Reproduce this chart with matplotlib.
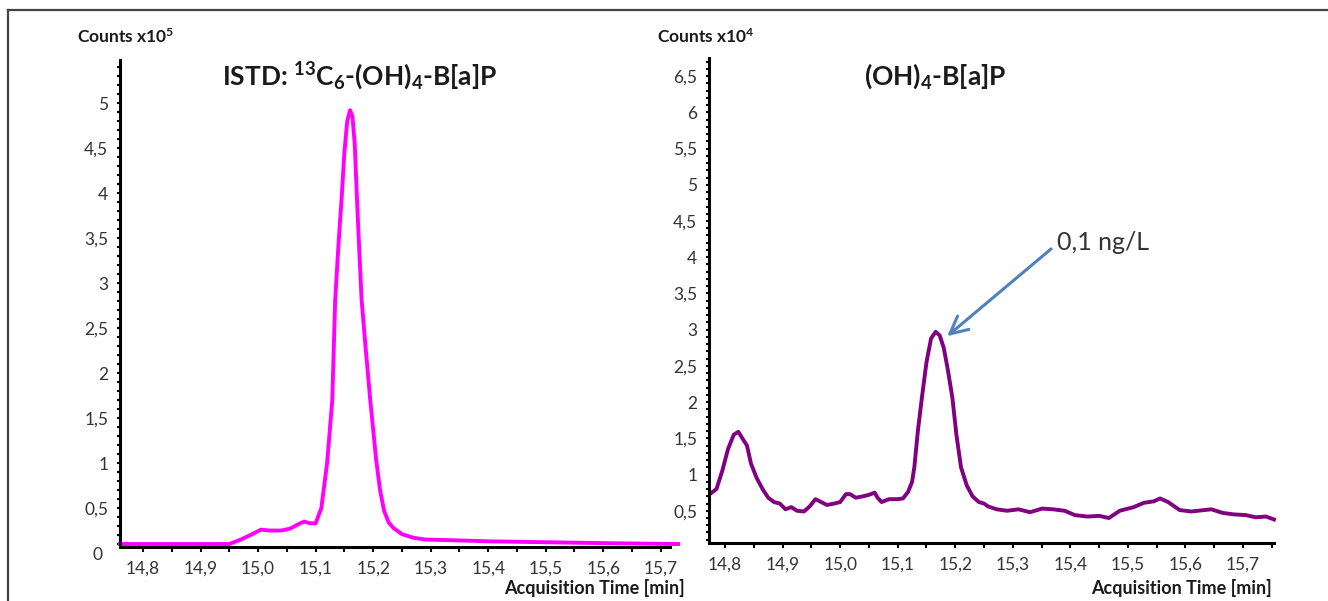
import matplotlib as mpl
mpl.use('Agg')
import matplotlib.pyplot as plt
from matplotlib.ticker import MultipleLocator, FuncFormatter
import numpy as np

plt.rcParams['font.family'] = ['Lato', 'DejaVu Sans']
plt.rcParams['mathtext.fontset'] = 'custom'
plt.rcParams['mathtext.rm'] = 'Lato'
plt.rcParams['mathtext.bf'] = 'Lato:bold'
plt.rcParams['mathtext.default'] = 'bf'

# ISTD trace, counts x10^5
istd_time = [14.76, 14.85, 14.95, 14.97, 14.99, 15.005, 15.02, 15.04, 15.055, 15.07,
             15.08, 15.09, 15.1, 15.11, 15.12, 15.129, 15.134, 15.14, 15.145, 15.15,
             15.155, 15.16, 15.164, 15.168, 15.172, 15.176, 15.18, 15.188, 15.195, 15.205,
             15.212, 15.219, 15.227, 15.235, 15.25, 15.27, 15.29, 15.35, 15.4, 15.5,
             15.6, 15.73]
istd_counts = [0.1, 0.1, 0.1, 0.15, 0.21, 0.26, 0.25, 0.25, 0.27, 0.32,
               0.35, 0.33, 0.33, 0.5, 1.0, 1.7, 2.81, 3.45, 3.92, 4.45,
               4.8, 4.92, 4.85, 4.55, 3.92, 3.35, 2.81, 2.2, 1.7, 1.05,
               0.7, 0.47, 0.34, 0.28, 0.21, 0.17, 0.15, 0.14, 0.13, 0.12,
               0.11, 0.1]

# analyte trace, counts x10^4
ana_time = [14.775, 14.785, 14.795, 14.805, 14.815, 14.823, 14.83, 14.838, 14.845, 14.855,
            14.865, 14.875, 14.885, 14.895, 14.905, 14.915, 14.925, 14.937, 14.947, 14.957,
            14.967, 14.977, 14.99, 15.0, 15.01, 15.017, 15.027, 15.04, 15.05, 15.06,
            15.065, 15.072, 15.085, 15.1, 15.109, 15.118, 15.125, 15.129, 15.135, 15.142,
            15.15, 15.158, 15.166, 15.173, 15.18, 15.187, 15.195, 15.202, 15.21, 15.22,
            15.23, 15.241, 15.25, 15.257, 15.272, 15.29, 15.31, 15.33, 15.351, 15.37,
            15.39, 15.408, 15.43, 15.45, 15.467, 15.486, 15.51, 15.528, 15.545, 15.556,
            15.57, 15.59, 15.61, 15.645, 15.665, 15.684, 15.705, 15.722, 15.74, 15.754]
ana_counts = [0.74, 0.8, 1.05, 1.35, 1.55, 1.59, 1.5, 1.4, 1.15, 0.95,
              0.8, 0.68, 0.62, 0.6, 0.52, 0.55, 0.5, 0.49, 0.56, 0.66,
              0.62, 0.58, 0.6, 0.62, 0.73, 0.73, 0.68, 0.7, 0.72, 0.75,
              0.68, 0.62, 0.66, 0.66, 0.67, 0.76, 0.9, 1.11, 1.6, 2.06,
              2.55, 2.88, 2.97, 2.92, 2.75, 2.45, 2.06, 1.55, 1.1, 0.85,
              0.7, 0.62, 0.6, 0.56, 0.52, 0.5, 0.52, 0.48, 0.53, 0.52,
              0.5, 0.44, 0.42, 0.43, 0.4, 0.5, 0.55, 0.61, 0.63, 0.67,
              0.62, 0.51, 0.49, 0.52, 0.47, 0.45, 0.44, 0.41, 0.42, 0.38]

W, H = 1328, 601
fig = plt.figure(figsize=(W / 100, H / 100), dpi=100)


def px_axes(x0, y_top, x1, y_bot):
    return fig.add_axes([x0 / W, 1 - y_bot / H, (x1 - x0) / W, (y_bot - y_top) / H])


def fx(x):
    return x / W


def fy(y):
    return 1 - y / H


comma = FuncFormatter(lambda v, p: ('%g' % round(v, 2)).replace('.', ','))
tfmt = FuncFormatter(lambda v, p: ('%.1f' % v).replace('.', ','))
lab_col = '#333333'


def style(ax):
    for s in ['top', 'right']:
        ax.spines[s].set_visible(False)
    for s in ['left', 'bottom']:
        ax.spines[s].set_linewidth(2.2)
        ax.spines[s].set_color('black')
    ax.xaxis.set_major_locator(MultipleLocator(0.1))
    ax.xaxis.set_minor_locator(MultipleLocator(0.05))
    ax.xaxis.set_major_formatter(tfmt)
    ax.yaxis.set_major_locator(MultipleLocator(0.5))
    ax.yaxis.set_minor_locator(MultipleLocator(0.1))
    ax.yaxis.set_major_formatter(comma)
    ax.tick_params(axis='both', which='both', direction='out', length=3.5, width=1.5,
                   color='black', labelsize=12.5, labelcolor=lab_col)
    ax.tick_params(axis='y', which='both', length=2.5, pad=6)
    ax.tick_params(axis='x', which='both', pad=6)


# left panel
ax1 = px_axes(120, 60, 670, 547)
ax1.plot(istd_time, istd_counts, color='#ff00ff', lw=2.8, clip_on=False,
         solid_joinstyle='round')
ax1.set_xlim(14.76, 15.716)
ax1.set_ylim(0.067, 5.478)
style(ax1)
fig.text(fx(97), fy(555), '0', ha='center', va='center', fontsize=12.5, color=lab_col)

# right panel
ax2 = px_axes(709, 58, 1274, 543)
ax2.plot(ana_time, ana_counts, color='#800080', lw=2.8, clip_on=False,
         solid_joinstyle='round')
ax2.set_xlim(14.772, 15.754)
ax2.set_ylim(0.055, 6.75)
style(ax2)

ax2.annotate('0,1 ng/L', xy=(15.186, 2.91), xytext=(15.377, 4.2),
             fontsize=18, color='#333333', ha='left', va='center',
             arrowprops=dict(arrowstyle='->,head_length=0.7,head_width=0.35',
                             color='#4f81bd', lw=2.2, shrinkA=3, shrinkB=0,
                             relpos=(0, 0.45)))

# titles and labels
fig.text(fx(360), fy(76), r'ISTD: $^{13}$C$_{6}$-(OH)$_{4}$-B[a]P', ha='center',
         va='center', fontsize=19, fontweight='bold', color='#1a1a1a')
fig.text(fx(935), fy(76), r'(OH)$_{4}$-B[a]P', ha='center', va='center',
         fontsize=19, fontweight='bold', color='#1a1a1a')
fig.text(fx(77), fy(37), r'Counts x10$^{5}$', ha='left', va='center',
         fontsize=12.5, fontweight='bold', color='#1a1a1a')
fig.text(fx(657), fy(37), r'Counts x10$^{4}$', ha='left', va='center',
         fontsize=12.5, fontweight='bold', color='#1a1a1a')
fig.text(fx(685), fy(588), 'Acquisition Time [min]', ha='right', va='center',
         fontsize=13, fontweight='bold', color='#1a1a1a')
fig.text(fx(1272), fy(588), 'Acquisition Time [min]', ha='right', va='center',
         fontsize=13, fontweight='bold', color='#1a1a1a')

# frame (top and left edges)
fig.add_artist(plt.Line2D([fx(8), 1], [fy(10), fy(10)], color='#444444', lw=1.6))
fig.add_artist(plt.Line2D([fx(8), fx(8)], [fy(10), 0], color='#444444', lw=1.6))

fig.savefig('out.png', dpi=100)
